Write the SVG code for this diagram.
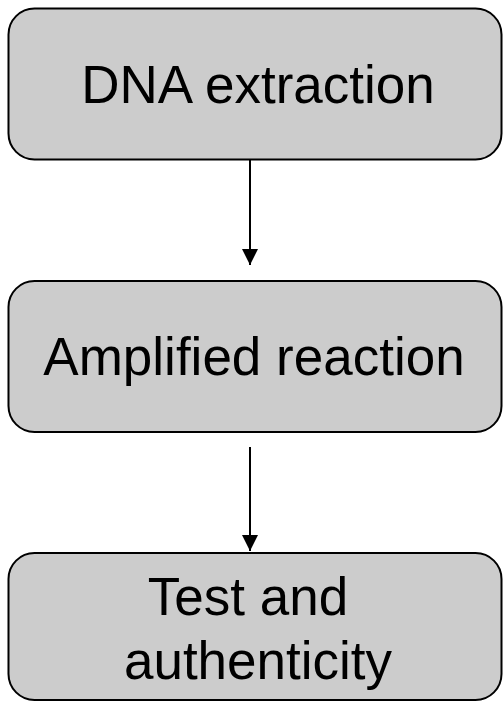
<svg xmlns="http://www.w3.org/2000/svg" width="504" height="701" viewBox="0 0 504 701">
<style>
.box{fill:#cccccc;stroke:#000;stroke-width:2}
.lbl{font-family:"Liberation Sans",Arial,sans-serif;font-size:53px;fill:#000;text-anchor:middle}
.edge{stroke:#000;stroke-width:2;fill:none}
</style>
<defs>
<marker id="ah" markerUnits="userSpaceOnUse" markerWidth="16" markerHeight="16" refX="16" refY="8" orient="auto">
<path d="M0,0 L16,8 L0,16 Z" fill="#000"/>
</marker>
</defs>
<rect width="504" height="701" fill="#fff"/>
<g id="connectors">
<line class="edge" x1="250" y1="160" x2="250" y2="265" marker-end="url(#ah)"/>
<line class="edge" x1="250" y1="447" x2="250" y2="551" marker-end="url(#ah)"/>
</g>
<g id="node-dna">
<rect class="box" x="8.5" y="8.5" width="493" height="151" rx="26" ry="26"/>
<text class="lbl" x="258" y="103">DNA extraction</text>
</g>
<g id="node-amplified">
<rect class="box" x="8.5" y="281" width="493" height="151" rx="26" ry="26"/>
<text class="lbl" x="254" y="375">Amplified reaction</text>
</g>
<g id="node-test">
<rect class="box" x="8.5" y="553" width="493" height="147" rx="26" ry="26"/>
<text class="lbl" x="248" y="615">Test and</text>
<text class="lbl" x="258" y="679">authenticity</text>
</g>
</svg>
